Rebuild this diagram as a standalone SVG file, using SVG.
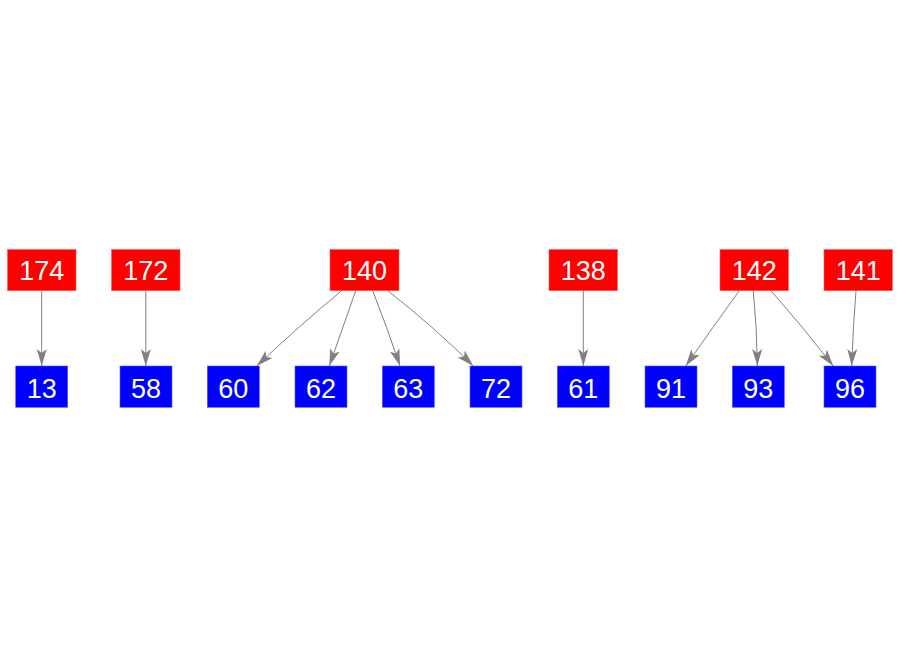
<svg xmlns="http://www.w3.org/2000/svg" width="900" height="656" viewBox="0 0 900 656">
<defs>
<style>
.src rect{fill:#ff0000;stroke:#ff5a5a;stroke-width:0.6}
.dst rect{fill:#0000ff;stroke:#5a5aff;stroke-width:0.6}
text{font-family:"Liberation Sans",Arial,sans-serif;font-size:27px;fill:#ffffff;text-anchor:middle}
#edges path{fill:none;stroke:#808080;stroke-width:1;marker-end:url(#arr)}
</style>
<marker id="arr" markerUnits="userSpaceOnUse" markerWidth="18" markerHeight="12" refX="17" refY="5" orient="auto" viewBox="0 0 18 12">
<path d="M0,0 L17,5 L0,10 L4,5 Z" fill="#808080"/>
</marker>
</defs>
<rect width="900" height="656" fill="#ffffff"/>
<g id="edges">
<path d="M41.7,290.7 L41.7,366"/>
<path d="M145.8,290.7 L145.8,366"/>
<path d="M341.7,290.7 Q300,325 256.7,366"/>
<path d="M355.7,290.7 Q343,327 329.3,366"/>
<path d="M372.7,290.7 Q387,327 400,366"/>
<path d="M387.7,290.7 Q432,325 473.3,366"/>
<path d="M583.3,290.7 L583.3,366"/>
<path d="M739.3,290.7 Q713,327 685.7,366"/>
<path d="M753.3,290.7 Q757,327 757.3,366"/>
<path d="M771,290.7 Q803,327 833.3,366"/>
<path d="M856,290.7 Q853,327 851.7,366"/>
</g>
<g id="n174" class="src"><rect x="7.5" y="249.5" width="68.5" height="41.2"/><text x="41.7" y="280.3">174</text></g>
<g id="n172" class="src"><rect x="111.5" y="249.5" width="68.5" height="41.2"/><text x="145.8" y="280.3">172</text></g>
<g id="n140" class="src"><rect x="330" y="249.5" width="69" height="41.2"/><text x="364.5" y="280.3">140</text></g>
<g id="n138" class="src"><rect x="549" y="249.5" width="68.5" height="41.2"/><text x="583.3" y="280.3">138</text></g>
<g id="n142" class="src"><rect x="720" y="249.5" width="68.5" height="41.2"/><text x="754.2" y="280.3">142</text></g>
<g id="n141" class="src"><rect x="824" y="249.5" width="68.5" height="41.2"/><text x="858.2" y="280.3">141</text></g>
<g id="n13" class="dst"><rect x="15.7" y="366" width="52" height="41.3"/><text x="41.7" y="397.9">13</text></g>
<g id="n58" class="dst"><rect x="120" y="366" width="52" height="41.3"/><text x="146" y="397.9">58</text></g>
<g id="n60" class="dst"><rect x="207.3" y="366" width="52" height="41.3"/><text x="233.3" y="397.9">60</text></g>
<g id="n62" class="dst"><rect x="295" y="366" width="52" height="41.3"/><text x="321" y="397.9">62</text></g>
<g id="n63" class="dst"><rect x="382.3" y="366" width="52" height="41.3"/><text x="408.3" y="397.9">63</text></g>
<g id="n72" class="dst"><rect x="470" y="366" width="52" height="41.3"/><text x="496" y="397.9">72</text></g>
<g id="n61" class="dst"><rect x="557.3" y="366" width="52" height="41.3"/><text x="583.3" y="397.9">61</text></g>
<g id="n91" class="dst"><rect x="645" y="366" width="52" height="41.3"/><text x="671" y="397.9">91</text></g>
<g id="n93" class="dst"><rect x="732.3" y="366" width="52" height="41.3"/><text x="758.3" y="397.9">93</text></g>
<g id="n96" class="dst"><rect x="824" y="366" width="52" height="41.3"/><text x="850" y="397.9">96</text></g>
</svg>
